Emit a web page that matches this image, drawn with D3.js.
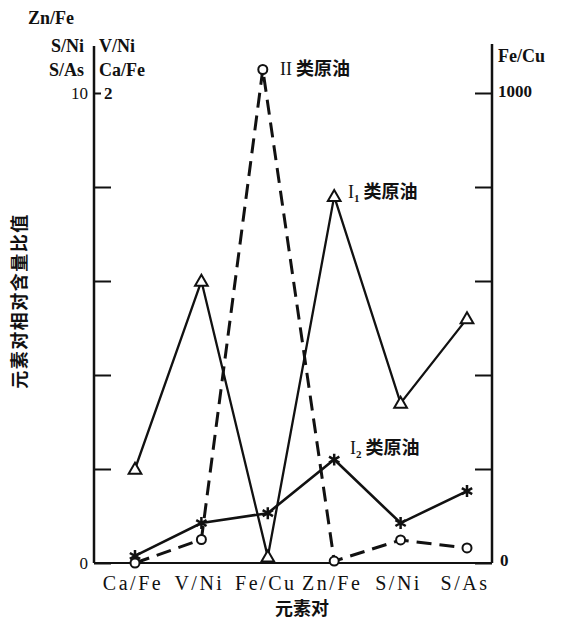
<!DOCTYPE html>
<html lang="zh">
<head>
<meta charset="UTF-8">
<script src="https://d3js.org/d3.v7.min.js"></script>
<style>
  body { margin: 0; background: #fff; }
  .lat { font-family: "Liberation Serif", serif; fill: #111; }
  .cjk { font-family: "Noto Sans CJK SC", sans-serif; fill: #111; }
</style>
</head>
<body>
<div id="chart"></div>
<script>
// categories and which axis each one is read on
const cats = ["Ca/Fe", "V/Ni", "Fe/Cu", "Zn/Fe", "S/Ni", "S/As"];
const catAxis = ["2", "2", "1000", "10", "10", "10"];

// values
const typeII  = [0.0, 0.10, 1050, 0.04, 0.49, 0.32];   // II类原油, dashed, circles
const typeI1  = [0.40, 1.20, 13, 7.8, 3.4, 5.2];       // I1类原油, triangles
const typeI2  = [0.03, 0.17, 106, 2.2, 0.85, 1.53];    // I2类原油, asterisks

const leftTicks10 = [0, 2, 4, 6, 8, 10];
const rightTicks = [0, 200, 400, 600, 800, 1000];

const W = 561, H = 620;
const x0 = 94, x1 = 492, yBase = 563, yTop = 93;

const svg = d3.select("#chart").append("svg")
  .attr("width", W).attr("height", H);

const x = d3.scalePoint().domain(cats).range([135, 467]);
const y = {
  "10": d3.scaleLinear().domain([0, 10]).range([yBase, yTop]),
  "2": d3.scaleLinear().domain([0, 2]).range([yBase, yTop]),
  "1000": d3.scaleLinear().domain([0, 1000]).range([yBase, yTop])
};

// axes
const axL = svg.append("g").attr("transform", `translate(${x0},0)`)
  .call(d3.axisLeft(y["10"]).tickValues(leftTicks10).tickSize(-17).tickFormat(""));
const axR = svg.append("g").attr("transform", `translate(${x1},0)`)
  .call(d3.axisRight(y["1000"]).tickValues(rightTicks).tickSize(-17).tickFormat(""));
[axL, axR].forEach(a => {
  a.select(".domain").remove();
  a.selectAll("line").attr("stroke", "#111").attr("stroke-width", 2);
});
// top left tick is short, "2" sits next to it
axL.selectAll(".tick").filter(d => d === 10).select("line").attr("x2", 7);

svg.append("line").attr("x1", x0).attr("x2", x0).attr("y1", 46).attr("y2", yBase)
  .attr("stroke", "#111").attr("stroke-width", 2.5);
svg.append("line").attr("x1", x1).attr("x2", x1).attr("y1", 44).attr("y2", yBase)
  .attr("stroke", "#111").attr("stroke-width", 2.5);
svg.append("line").attr("x1", x0).attr("x2", x1).attr("y1", yBase).attr("y2", yBase)
  .attr("stroke", "#111").attr("stroke-width", 2);

// axis labels
const lab = (t, px, py, anchor, size, weight, cls) =>
  svg.append("text").attr("class", cls || "lat").attr("x", px).attr("y", py)
    .attr("text-anchor", anchor || "start").attr("font-size", size || 18)
    .attr("font-weight", weight || "bold").text(t);

lab("Zn/Fe", 28, 24, "start", 18);
lab("S/Ni", 84, 52, "end", 18);
lab("V/Ni", 99, 52, "start", 18);
lab("S/As", 84, 76, "end", 18);
lab("Ca/Fe", 99, 76, "start", 18);
lab("10", 88, y["10"](10) + 6, "end", 17, "normal");
lab("2", 104, y["10"](10) + 6, "start", 17, "bold");
lab("Fe/Cu", 498, 62, "start", 18);
lab("1000", 498, y["1000"](1000) + 4, "start", 17, "bold");
lab("0", 88, yBase + 6, "end", 17, "normal");
lab("0", 500, yBase + 3, "start", 17, "bold");

// category labels
cats.forEach(c => {
  lab(c, x(c) - 2, 590, "middle", 20, "normal").attr("letter-spacing", 2.5);
});

lab("元素对", 302, 615, "middle", 18, "bold", "cjk");
svg.append("text").attr("class", "cjk").attr("font-size", 18).attr("font-weight", "bold")
  .attr("text-anchor", "middle").attr("letter-spacing", 1.5)
  .attr("transform", "translate(26,301) rotate(-90)").text("元素对相对含量比值");

// series
const pts = vals => vals.map((v, i) => [x(cats[i]), y[catAxis[i]](v)]);
const line = d3.line();

const pII = pts(typeII), pI1 = pts(typeI1), pI2 = pts(typeI2);
pII[2][0] -= 5;

svg.append("path").attr("d", line(pI1)).attr("fill", "none")
  .attr("stroke", "#111").attr("stroke-width", 2.3);
svg.append("path").attr("d", line(pI2)).attr("fill", "none")
  .attr("stroke", "#111").attr("stroke-width", 2.6);
svg.append("path").attr("d", line(pII)).attr("fill", "none")
  .attr("stroke", "#111").attr("stroke-width", 3).attr("stroke-dasharray", "15,8");

// markers
const tri = d3.symbol().type(d3.symbolTriangle).size(70);
svg.append("g").selectAll("path").data(pI1).join("path")
  .attr("d", tri).attr("transform", d => `translate(${d[0]},${d[1] + 1})`)
  .attr("fill", "#fff").attr("stroke", "#111").attr("stroke-width", 2);

const star = d3.symbol().type(d3.symbolAsterisk).size(100);
svg.append("g").selectAll("path").data(pI2).join("path")
  .attr("d", star).attr("transform", d => `translate(${d[0]},${d[1]})`)
  .attr("fill", "none").attr("stroke", "#111").attr("stroke-width", 2.5);

svg.append("g").selectAll("circle").data(pII).join("circle")
  .attr("cx", d => d[0]).attr("cy", d => d[1]).attr("r", 4.5)
  .attr("fill", "#fff").attr("stroke", "#111").attr("stroke-width", 2);

// series labels
const seriesLab = (main, sub, px, py) => {
  const t = svg.append("text").attr("class", "cjk").attr("x", px).attr("y", py)
    .attr("font-size", 18).attr("font-weight", "bold");
  t.append("tspan").attr("class", "lat").attr("font-family", "Liberation Serif")
    .attr("font-weight", "normal").text(main);
  if (sub) t.append("tspan").attr("font-family", "Liberation Serif").attr("font-size", 11)
    .attr("dy", 4).text(sub);
  t.append("tspan").attr("dy", sub ? -4 : 0).attr("dx", 4).text("类原油");
};
seriesLab("II", null, 280, 75);
seriesLab("I", "1", 348, 198);
seriesLab("I", "2", 350, 454);
</script>
</body>
</html>
